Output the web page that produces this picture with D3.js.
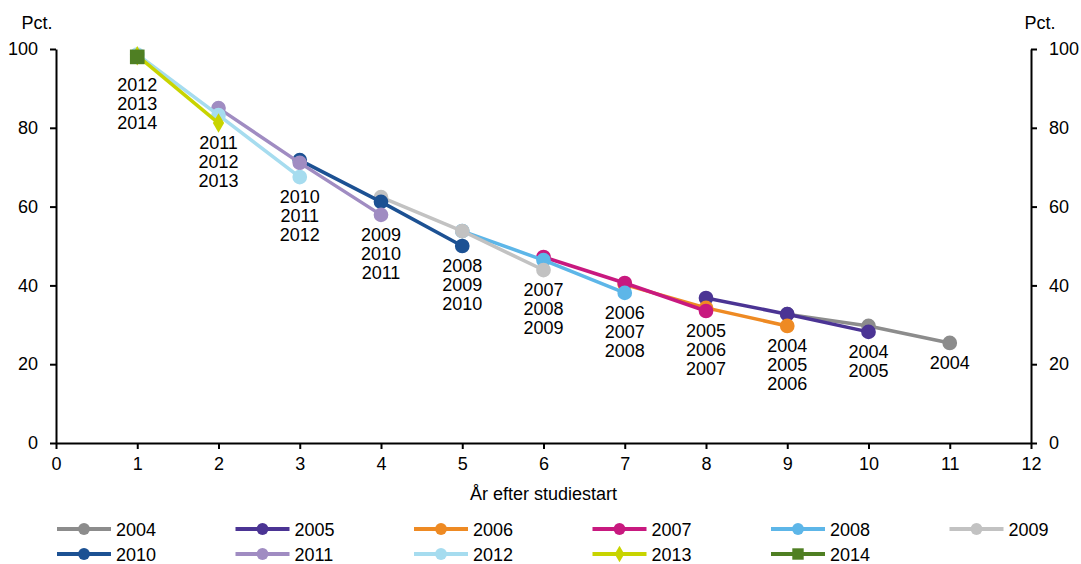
<!DOCTYPE html>
<html>
<head>
<meta charset="utf-8">
<script src="https://cdn.jsdelivr.net/npm/d3@7"></script>
<style>
  body { margin: 0; background: #fff; }
  svg text { font-family: "Liberation Sans", Arial, sans-serif; fill: #000; }
</style>
</head>
<body>
<div id="chart"></div>
<script>
// cohorts (year of study start), first year shown and the shares (pct.) still studying
const cohorts = ["2004", "2005", "2006", "2007", "2008", "2009", "2010", "2011", "2012", "2013", "2014"];
const startYears = [9, 8, 7, 6, 5, 4, 3, 2, 1, 1, 1];
const values = [
  [32.7, 29.7, 25.4],
  [36.8, 32.7, 28.2],
  [40.2, 34.3, 29.7],
  [47.2, 40.6, 33.5],
  [53.8, 46.4, 38.1],
  [62.4, 53.8, 43.9],
  [71.8, 61.2, 50.0],
  [85.0, 71.1, 57.9],
  [98.6, 83.2, 67.5],
  [98.3, 81.2],
  [98.0]
];
const colors = ["#8c8c8c", "#4b3494", "#ee8a23", "#c8197f", "#5db6e8", "#c2c2c2",
                "#1c5193", "#a08cc2", "#a6dcef", "#c8d400", "#4f7f23"];
const symbols = ["circle", "circle", "circle", "circle", "circle", "circle",
                 "circle", "circle", "circle", "diamond", "square"];
const xTicks = d3.range(0, 13);
const yTicks = [0, 20, 40, 60, 80, 100];

const width = 1081, height = 564;
const svg = d3.select("#chart").append("svg")
  .attr("width", width).attr("height", height);

const x = d3.scaleLinear().domain([0, 12]).range([56, 1031]);
const y = d3.scaleLinear().domain([0, 100]).range([443, 49]);

// axes
const styleAxis = g => {
  g.selectAll("path.domain").attr("stroke", "#000").attr("stroke-width", 2);
  g.selectAll(".tick line").attr("stroke", "#000").attr("stroke-width", 2);
  g.selectAll(".tick text").style("font-size", "18px").attr("fill", "#000");
};

svg.append("g")
  .attr("transform", `translate(${x(0)},0)`)
  .call(d3.axisLeft(y).tickValues(yTicks).tickSize(6).tickSizeOuter(0).tickPadding(12))
  .call(styleAxis);

svg.append("g")
  .attr("transform", `translate(${x(12)},0)`)
  .call(d3.axisRight(y).tickValues(yTicks).tickSize(6).tickSizeOuter(0).tickPadding(12))
  .call(styleAxis);

svg.append("g")
  .attr("transform", `translate(0,${y(0)})`)
  .call(d3.axisBottom(x).tickValues(xTicks).tickSize(6).tickSizeOuter(0).tickPadding(8))
  .call(styleAxis);

svg.append("text").attr("x", 37).attr("y", 29).attr("text-anchor", "middle")
  .style("font-size", "18px").text("Pct.");
svg.append("text").attr("x", 1040).attr("y", 29).attr("text-anchor", "middle")
  .style("font-size", "18px").text("Pct.");
svg.append("text").attr("x", (x(0) + x(12)) / 2).attr("y", 500).attr("text-anchor", "middle")
  .style("font-size", "18px").text("År efter studiestart");

// series
const series = cohorts.map((c, i) => ({
  name: c,
  color: colors[i],
  symbol: symbols[i],
  points: values[i].map((v, j) => ({ year: startYears[i] + j, value: v, name: c, symbol: symbols[i] }))
}));

const line = d3.line().x(d => x(d.year)).y(d => y(d.value));
const symbolPath = (type, size) =>
  d3.symbol().type(type === "diamond" ? d3.symbolDiamond : type === "square" ? d3.symbolSquare : d3.symbolCircle).size(size)();

const sizeOf = t => t === "circle" ? 170 : t === "square" ? 215 : 110;

const gSeries = svg.append("g");
series.forEach(s => {
  const g = gSeries.append("g");
  g.append("path").datum(s.points)
    .attr("d", line)
    .attr("fill", "none")
    .attr("stroke", s.color)
    .attr("stroke-width", 3.5)
    .attr("stroke-linejoin", "round");
  g.selectAll("path.m").data(s.points).join("path")
    .attr("class", "m")
    .attr("transform", d => `translate(${x(d.year)},${y(d.value)})`)
    .attr("d", symbolPath(s.symbol, sizeOf(s.symbol)))
    .attr("fill", s.color);
});

// stacked cohort labels under the lowest point of each year
const allPoints = series.flatMap(s => s.points);
const byYear = d3.group(allPoints, d => d.year);
const labels = svg.append("g");
for (const [yr, pts] of byYear) {
  const low = pts.reduce((a, b) => (b.value <= a.value ? b : a));
  const extra = low.symbol === "square" ? 8 : 0; // the big square marker pushes labels down
  const names = pts.map(d => d.name).sort();
  labels.append("g")
    .selectAll("text").data(names).join("text")
    .attr("x", x(yr))
    .attr("y", (d, k) => y(low.value) + 26 + extra + k * 19)
    .attr("text-anchor", "middle")
    .style("font-size", "18px")
    .text(d => d);
}

// legend
const legend = svg.append("g");
series.forEach((s, i) => {
  const col = i % 6, row = Math.floor(i / 6);
  const lx = 57 + col * 178.5, ly = 529 + row * 25;
  const g = legend.append("g").attr("transform", `translate(${lx},${ly})`);
  g.append("line").attr("x1", 0).attr("x2", 54).attr("y1", 0).attr("y2", 0)
    .attr("stroke", s.color).attr("stroke-width", 4);
  g.append("path").attr("transform", "translate(27,0)")
    .attr("d", symbolPath(s.symbol, s.symbol === "circle" ? 110 : s.symbol === "square" ? 130 : 80))
    .attr("fill", s.color);
  g.append("text").attr("x", 59).attr("y", 6.5).style("font-size", "18px").text(s.name);
});
</script>
</body>
</html>
